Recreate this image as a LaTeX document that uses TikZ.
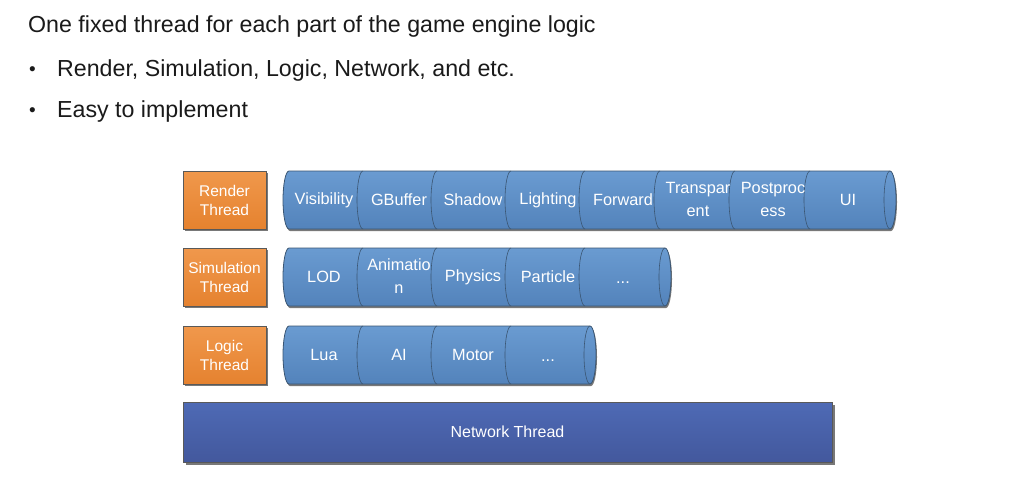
\documentclass[tikz,border=0pt]{standalone}
\usepackage{fontspec}
\setmainfont{Liberation Sans}
\usetikzlibrary{shadows}

\definecolor{txt}{HTML}{1A1A1A}
\definecolor{orangetop}{HTML}{F0984C}
\definecolor{orangebot}{HTML}{E5822F}
\definecolor{cyltop}{HTML}{6A9BD1}
\definecolor{cylbot}{HTML}{5383BB}
\definecolor{cylline}{HTML}{3B5673}
\definecolor{nettop}{HTML}{4E6AB5}
\definecolor{netbot}{HTML}{43589D}

\tikzset{
  heading/.style={anchor=base west, inner sep=0pt, text=txt, font=\fontsize{23.2}{28}\selectfont},
  bulletmark/.style={anchor=base west, inner sep=0pt, text=txt, font=\fontsize{19}{28}\selectfont},
  threadbox/.style={draw=black!65, line width=0.6pt, top color=orangetop, bottom color=orangebot,
    minimum width=83pt, minimum height=58pt, inner sep=0pt, text=white, align=center,
    font=\fontsize{15.5}{19}\selectfont,
    drop shadow={shadow xshift=2pt, shadow yshift=-2pt, fill=black!75, opacity=.7}},
  cylbody/.style={draw=cylline, line width=0.8pt, top color=cyltop, bottom color=cylbot,
    drop shadow={shadow xshift=1pt, shadow yshift=-2pt, fill=black!75, opacity=.7}},
  cylseam/.style={draw=cylline, line width=0.6pt},
  seglabel/.style={text=white, inner sep=0pt, align=center, font=\fontsize{16.3}{23}\selectfont},
  dotslabel/.style={seglabel, anchor=base},
  netbox/.style={draw=black!65, line width=0.6pt, top color=nettop, bottom color=netbot,
    minimum width=649pt, minimum height=60pt, inner sep=0pt, text=white,
    font=\fontsize{16}{19}\selectfont,
    drop shadow={shadow xshift=3pt, shadow yshift=-3pt, fill=black!75, opacity=.7}},
}

% one horizontal cylinder: #1 top y, #2 right cap centre x, #3 seam centres
\newcommand\threadcyl[3]{%
  \path[cylbody] (289,#1) -- (#2,#1)
     arc[start angle=90, end angle=-90, x radius=6pt, y radius=29pt]
     -- (289,#1+58)
     arc[start angle=270, end angle=90, x radius=6pt, y radius=29pt] -- cycle;
  \foreach \sx in {#3} {
    \draw[cylseam] (\sx,#1) arc[start angle=90, end angle=270, x radius=6pt, y radius=29pt];
  }
}

\begin{document}
\begin{tikzpicture}[x=1pt, y=-1pt]
\useasboundingbox[fill=white] (0,0) rectangle (1009,484);

% heading and bullet list
\node[heading] (title) at (28,33) {One fixed thread for each part of the game engine logic};
\node[bulletmark] (dot1) at (29,76) {•};
\node[heading] (item1) at (57,77) {Render, Simulation, Logic, Network, and etc.};
\node[bulletmark] (dot2) at (29,117) {•};
\node[heading] (item2) at (57,118) {Easy to implement};

% thread name boxes
\node[threadbox] (render) at (224.5,200) {Render\\Thread};
\node[threadbox] (sim)    at (224.5,277) {Simulation\\Thread};
\node[threadbox] (logic)  at (224.5,355) {Logic\\Thread};

% render thread tasks
\threadcyl{171}{890}{363,437,511,585,660,735,810,890}
\node[seglabel] (r1) at (324,200) {Visibility};
\node[seglabel] (r2) at (399,200) {GBuffer};
\node[seglabel] (r3) at (473,200) {Shadow};
\node[seglabel] (r4) at (548,200) {Lighting};
\node[seglabel] (r5) at (623,200) {Forward};
\node[seglabel] (r6) at (698,199) {Transpar\\ent};
\node[seglabel] (r7) at (773,199) {Postproc\\ess};
\node[seglabel] (r8) at (848,200) {UI};

% simulation thread tasks
\threadcyl{248}{665}{363,437,511,585,665}
\node[seglabel] (s1) at (324,277) {LOD};
\node[seglabel] (s2) at (399,276) {Animatio\\n};
\node[seglabel] (s3) at (473,277) {Physics};
\node[seglabel] (s4) at (548,277) {Particle};
\node[dotslabel] (s5) at (623,283) {...};

% logic thread tasks
\threadcyl{326}{590}{363,437,511,590}
\node[seglabel] (l1) at (324,355) {Lua};
\node[seglabel] (l2) at (399,355) {AI};
\node[seglabel] (l3) at (473,355) {Motor};
\node[dotslabel] (l4) at (548,361) {...};

% network thread bar
\node[netbox] (net) at (507.5,432) {Network Thread};
\end{tikzpicture}
\end{document}
